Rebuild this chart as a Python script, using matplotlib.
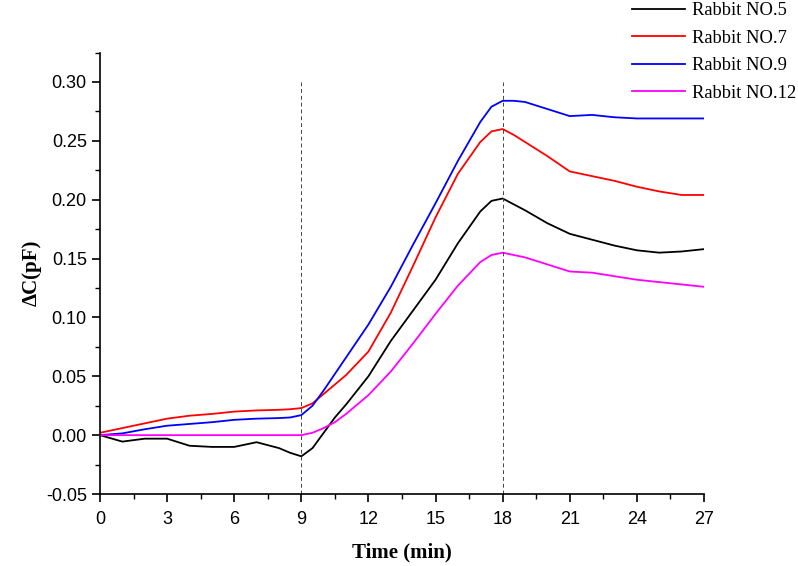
import matplotlib.pyplot as plt
from matplotlib.ticker import MultipleLocator

time = [0, 1, 2, 3, 4, 5, 6, 7, 8, 8.5, 9, 9.5, 10, 10.5, 11, 12, 13, 14, 15, 16,
        17, 17.5, 18, 18.5, 19, 20, 21, 22, 23, 24, 25, 26, 27]
no5 = [0.0, -0.0055, -0.003, -0.003, -0.009, -0.010, -0.010, -0.006, -0.011, -0.015,
       -0.018, -0.011, 0.002, 0.015, 0.026, 0.050, 0.080, 0.106, 0.132, 0.163,
       0.190, 0.199, 0.201, 0.196, 0.191, 0.180, 0.171, 0.166, 0.161, 0.157,
       0.155, 0.156, 0.158]
no7 = [0.002, 0.006, 0.010, 0.014, 0.0165, 0.018, 0.020, 0.021, 0.0215, 0.022,
       0.023, 0.027, 0.035, 0.043, 0.051, 0.071, 0.104, 0.144, 0.185, 0.222,
       0.249, 0.258, 0.260, 0.255, 0.249, 0.237, 0.224, 0.220, 0.216, 0.211,
       0.207, 0.204, 0.204]
no9 = [0.0, 0.0015, 0.005, 0.008, 0.0095, 0.011, 0.013, 0.014, 0.0145, 0.015,
       0.017, 0.025, 0.038, 0.052, 0.066, 0.094, 0.126, 0.162, 0.197, 0.233,
       0.266, 0.279, 0.284, 0.284, 0.283, 0.277, 0.271, 0.272, 0.270, 0.269,
       0.269, 0.269, 0.269]
no12 = [0.0, 0.0, 0.0, 0.0, 0.0, 0.0, 0.0, 0.0, 0.0, 0.0,
        0.0, 0.002, 0.006, 0.011, 0.018, 0.034, 0.054, 0.078, 0.103, 0.127,
        0.147, 0.153, 0.155, 0.153, 0.151, 0.145, 0.139, 0.138, 0.135, 0.132,
        0.130, 0.128, 0.126]
labels = ['Rabbit NO.5', 'Rabbit NO.7', 'Rabbit NO.9', 'Rabbit NO.12']
colors = ['black', 'red', 'blue', 'magenta']
marks = [9, 18]

fig = plt.figure(figsize=(7.98, 5.66), dpi=100)
ax = fig.add_axes([0.1253, 0.1272, 0.7569, 0.78])

for ys, lab, c in zip([no5, no7, no9, no12], labels, colors):
    ax.plot(time, ys, color=c, lw=1.3, label=lab, solid_joinstyle='round')

ax.vlines(marks, -0.05, 0.30, colors='#444444', linestyles=(0, (4, 3)), lw=0.7)

ax.set_xlim(0, 27)
ax.set_ylim(-0.05, 0.325)
ax.xaxis.set_major_locator(MultipleLocator(3))
ax.xaxis.set_minor_locator(MultipleLocator(1.5))
ax.yaxis.set_major_locator(MultipleLocator(0.05))
ax.yaxis.set_minor_locator(MultipleLocator(0.025))
ax.set_yticks([-0.05, 0, 0.05, 0.1, 0.15, 0.2, 0.25, 0.3])
ax.set_yticklabels(['-0.05', '0.00', '0.05', '0.10', '0.15', '0.20', '0.25', '0.30'])

for s in ['top', 'right']:
    ax.spines[s].set_visible(False)
for s in ['left', 'bottom']:
    ax.spines[s].set_linewidth(1.2)
ax.tick_params(which='major', direction='out', length=6, width=1.2,
               labelsize=13, labelfontfamily='Liberation Sans')
ax.tick_params(axis='x', which='major', pad=6)
ax.tick_params(which='minor', direction='out', length=3.5, width=1.0)

ax.set_xlabel('Time (min)', family='Liberation Serif', fontweight='bold', fontsize=15, labelpad=11)
ax.set_ylabel('ΔC(pF)', family='Liberation Serif', fontweight='bold', fontsize=15, labelpad=3)

fig.legend(loc='upper left', bbox_to_anchor=(0.771, 1.025), frameon=False,
           prop={'family': 'Liberation Serif', 'size': 13.3}, handlelength=2.85,
           handletextpad=0.4, labelspacing=0.56)

fig.savefig('out.png', dpi=100)
